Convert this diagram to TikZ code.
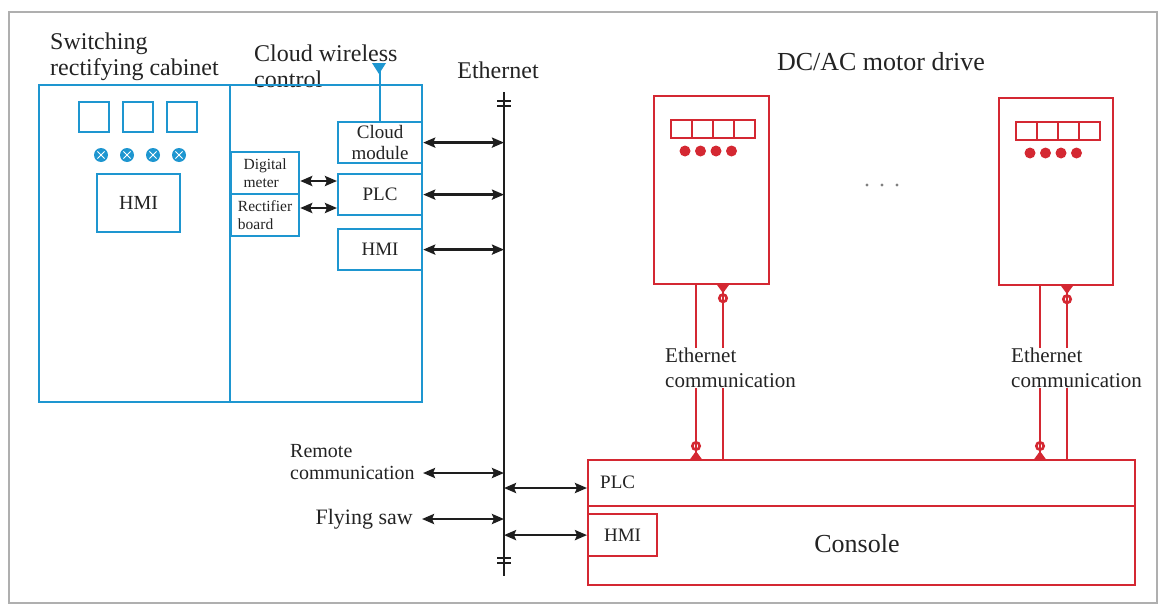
\documentclass[tikz,border=0pt]{standalone}
\usepackage{fontspec}
\setmainfont{Liberation Serif}
\usepackage{color}
\usetikzlibrary{arrows.meta,shapes,positioning}

\definecolor{cabblue}{RGB}{30,150,208}
\definecolor{drvred}{RGB}{212,40,50}
\definecolor{busgray}{RGB}{30,30,30}
\definecolor{txtgray}{RGB}{35,35,35}
\definecolor{framegray}{RGB}{175,175,175}

\begin{document}
\begin{tikzpicture}[x=1pt,y=-1pt,>={Stealth[length=12pt,width=10pt,inset=2pt]}]

	\tikzstyle{bbox}=[
		rectangle,
		draw=cabblue,
		line width=2.2pt,
		inner sep=0pt,
		anchor=north west,
		text=txtgray
	]
	\tikzstyle{rbox}=[
		rectangle,
		draw=drvred,
		line width=2.2pt,
		inner sep=0pt,
		anchor=north west,
		text=txtgray
	]
	\tikzstyle{post}=[<->, line width=2.5pt, draw=busgray]
	\tikzstyle{rline}=[draw=drvred, line width=2.6pt]
	\tikzstyle{rjack}=[rline, -{Circle[open,length=10pt,width=10pt] Triangle[reversed,length=8pt,width=11pt]}]
	\tikzstyle{big}=[text=txtgray, font=\fontsize{24}{26}\selectfont, inner sep=0pt]
	\tikzstyle{small}=[text=txtgray, font=\fontsize{20}{22}\selectfont, inner sep=0pt]

	\useasboundingbox (0,0) rectangle (1161,605);
	\draw [framegray, line width=1.5pt] (9,12) rectangle (1157,603);

	% switching rectifying cabinet
	\node [big, anchor=west, align=left] (cabtxt) at (50,57) {Switching\\rectifying cabinet};
	\node [big, anchor=west, align=left] (cloudtxt) at (254,66) {Cloud wireless\\control};
	\node [bbox, minimum width=383, minimum height=317] (cab) at (38,84) {};
	\draw [cabblue, line width=2.2pt] (cab.north -| 230,0) -- (cab.south -| 230,0);

	\foreach \x in {79,123,167}
		\draw [cabblue, line width=2.2pt] (\x,102) rectangle ++(30,30);
	\foreach \x in {101,127,153,179} {
		\fill [cabblue] (\x,155) circle (7);
		\draw [white, line width=1pt] (\x-3.6,151.4) -- (\x+3.6,158.6) (\x-3.6,158.6) -- (\x+3.6,151.4);
	}
	\node [bbox, minimum width=83, minimum height=58, font=\fontsize{20}{22}\selectfont] (hmiA) at (96,173) {HMI};

	\node [bbox, minimum width=84, minimum height=41, align=center, font=\fontsize{19}{21}\selectfont] (cloud) at (337,121) {Cloud\\module};
	\node [bbox, minimum width=84, minimum height=41, font=\fontsize{19}{21}\selectfont] (plcA) at (337,173) {PLC};
	\node [bbox, minimum width=84, minimum height=41, font=\fontsize{19}{21}\selectfont] (hmiB) at (337,228) {HMI};
	\node [bbox, minimum width=68, minimum height=42, align=left, font=\fontsize{15.5}{18}\selectfont] (meter) at (230,151) {Digital\\meter};
	\node [bbox, minimum width=68, minimum height=42, align=left, font=\fontsize{15.5}{18}\selectfont] (rectb) at (230,193) {Rectifier\\board};

	\draw [post] (meter.east |- 0,181) -- (plcA.west |- 0,181);
	\draw [post] (rectb.east |- 0,208) -- (plcA.west |- 0,208);

	% antenna
	\coordinate (ant) at (379,63);
	\draw [cabblue, line width=2.6pt] (cloud.north) -- (cloud.north |- ant);
	\fill [cabblue] (ant) ++(-7,0) -- ++(14,0) -- ++(-7,11) -- cycle;

	% ethernet bus
	\node [big] (eth) at (498,70) {Ethernet};
	\coordinate (busT) at (504,92);
	\coordinate (busB) at (504,576);
	\draw [busgray, line width=2.8pt] (busT) -- (busB);
	\foreach \y in {101,106,558,563}
		\draw [busgray, line width=1.8pt] (497,\y) -- (511,\y);

	\draw [post] (cloud.east) -- (cloud.east -| busT);
	\draw [post] (plcA.east) -- (plcA.east -| busT);
	\draw [post] (hmiB.east) -- (hmiB.east -| busT);

	\node [small, align=left, anchor=west] (remote) at (290,462) {Remote\\communication};
	\coordinate (remA) at (423,473);
	\draw [post] (remA) -- (remA -| busT);
	\node [big, font=\fontsize{22}{24}\selectfont, anchor=east] (saw) at (413,519) {Flying saw};
	\draw [post] ([xshift=9pt]saw.east) -- (saw.east -| busT);

	% console
	\node [rbox, minimum width=547, minimum height=125] (con) at (587,459) {};
	\node [rbox, minimum width=547, minimum height=46] (conPLC) at (587,459) {};
	\node [rbox, minimum width=69, minimum height=42, font=\fontsize{19}{21}\selectfont] (conHMI) at (587,513) {HMI};
	\node [small, font=\fontsize{19}{21}\selectfont, anchor=west] (plcB) at (600,482) {PLC};
	\node [big, font=\fontsize{26}{28}\selectfont] (console) at (857,544) {Console};
	\draw [post] (busT |- 0,488) -- (conPLC.west |- 0,488);
	\draw [post] (busT |- conHMI.west) -- (conHMI.west);

	% motor drives
	\node [big, font=\fontsize{26}{28}\selectfont] (drvtxt) at (881,62) {DC/AC motor drive};
	\node [rbox, minimum width=115, minimum height=188] (drvA) at (653,95) {};
	\node [rbox, minimum width=114, minimum height=187] (drvB) at (998,97) {};
	\foreach \d in {drvA,drvB} {
		\foreach \i in {0,...,3}
			\draw [drvred, line width=2.2pt] ([shift={(18+\i*21,25)}]\d.north west) rectangle ++(21,18);
		\foreach \i in {0,...,3}
			\fill [drvred] ([shift={(32+\i*15.5,56)}]\d.north west) circle (5.5);
	}
	\foreach \x in {867,882,897}
		\fill [gray] (\x,185) circle (1.6);

	\node [small, font=\fontsize{21}{25}\selectfont, align=left, anchor=west] (ethA) at (665,368) {Ethernet\\communication};
	\node [small, font=\fontsize{21}{25}\selectfont, align=left, anchor=west] (ethB) at (1011,368) {Ethernet\\communication};

	\foreach \d/\e/\a/\b in {drvA/ethA/696/723, drvB/ethB/1040/1067} {
		\draw [rline] (\d.south -| \a,0) -- (\e.north -| \a,0);
		\draw [rjack] (\e.south -| \a,0) -- (con.north -| \a,0);
		\draw [rjack] (\e.north -| \b,0) -- (\d.south -| \b,0);
		\draw [rline] (\e.south -| \b,0) -- (con.north -| \b,0);
	}

\end{tikzpicture}
\end{document}
